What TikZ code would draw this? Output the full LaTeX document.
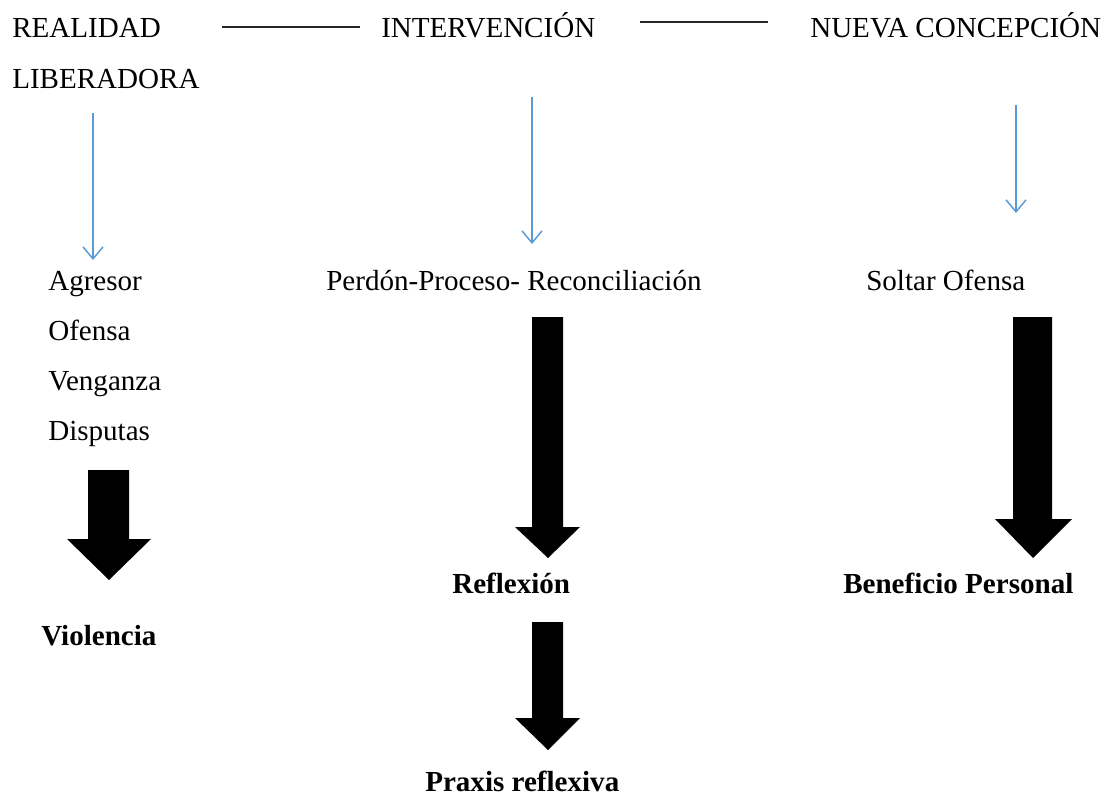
\documentclass[tikz,border=0pt]{standalone}
\usepackage{fontspec}
\setmainfont{Liberation Serif}
\usetikzlibrary{arrows.meta}
\definecolor{thinblue}{RGB}{91,155,213}
\tikzset{
  txt/.style={anchor=base west,inner sep=0pt,font=\fontsize{21.8}{25}\selectfont},
  btxt/.style={txt,font=\fontsize{21.8}{25}\selectfont\bfseries},
  thinarrow/.style={draw=thinblue,line width=1.1pt,-{Straight Barb[length=9pt,width=15pt,line width=1.1pt]}},
  hline/.style={draw=black!85,line width=1pt},
  blockarrow/.style={fill=black,draw=none}
}
\begin{document}
\begin{tikzpicture}[x=0.75pt,y=-0.75pt]
\useasboundingbox (0,0) rectangle (1111,796);
% headers
\node[txt] (realidad) at (12,37) {REALIDAD};
\node[txt] (liberadora) at (12,88) {LIBERADORA};
\node[txt] (interv) at (381,37) {INTERVENCIÓN};
\node[txt] (nueva) at (810,37) {NUEVA CONCEPCIÓN};
% connecting lines
\coordinate (l1a) at (222,27); \coordinate (l1b) at (360,27);
\coordinate (l2a) at (640,22); \coordinate (l2b) at (768,22);
\draw[hline] (l1a) -- (l1b);
\draw[hline] (l2a) -- (l2b);
% thin arrows
\coordinate (t1a) at (93,113); \coordinate (t1b) at (93,260);
\coordinate (t2a) at (532,97); \coordinate (t2b) at (532,244);
\coordinate (t3a) at (1016,105); \coordinate (t3b) at (1016,213);
\draw[thinarrow] (t1a) -- (t1b);
\draw[thinarrow] (t2a) -- (t2b);
\draw[thinarrow] (t3a) -- (t3b);
% lists
\node[txt] (agresor) at (48,290) {Agresor};
\node[txt] (ofensa) at (48,340) {Ofensa};
\node[txt] (venganza) at (48,390) {Venganza};
\node[txt] (disputas) at (48,440) {Disputas};
\node[txt] (perdon) at (326,290) {Perdón-Proceso- Reconciliación};
\node[txt] (soltar) at (866,290) {Soltar Ofensa};
% block arrows
\fill[blockarrow] (88,470) -- (129,470) -- (129,539) -- (151,539) -- (109,580) -- (67,539) -- (88,539) -- cycle;
\fill[blockarrow] (532,317) -- (563,317) -- (563,527) -- (580,527) -- (548,558) -- (515,527) -- (532,527) -- cycle;
\fill[blockarrow] (1013,317) -- (1052,317) -- (1052,519) -- (1072,519) -- (1033,558) -- (995,519) -- (1013,519) -- cycle;
\fill[blockarrow] (532,622) -- (563,622) -- (563,718) -- (580,718) -- (548,750) -- (515,718) -- (532,718) -- cycle;
% results
\node[btxt] (reflexion) at (452,593) {Reflexión};
\node[btxt] (beneficio) at (843,593) {Beneficio Personal};
\node[btxt] (violencia) at (41,645) {Violencia};
\node[btxt] (praxis) at (425,791) {Praxis reflexiva};
\end{tikzpicture}
\end{document}
